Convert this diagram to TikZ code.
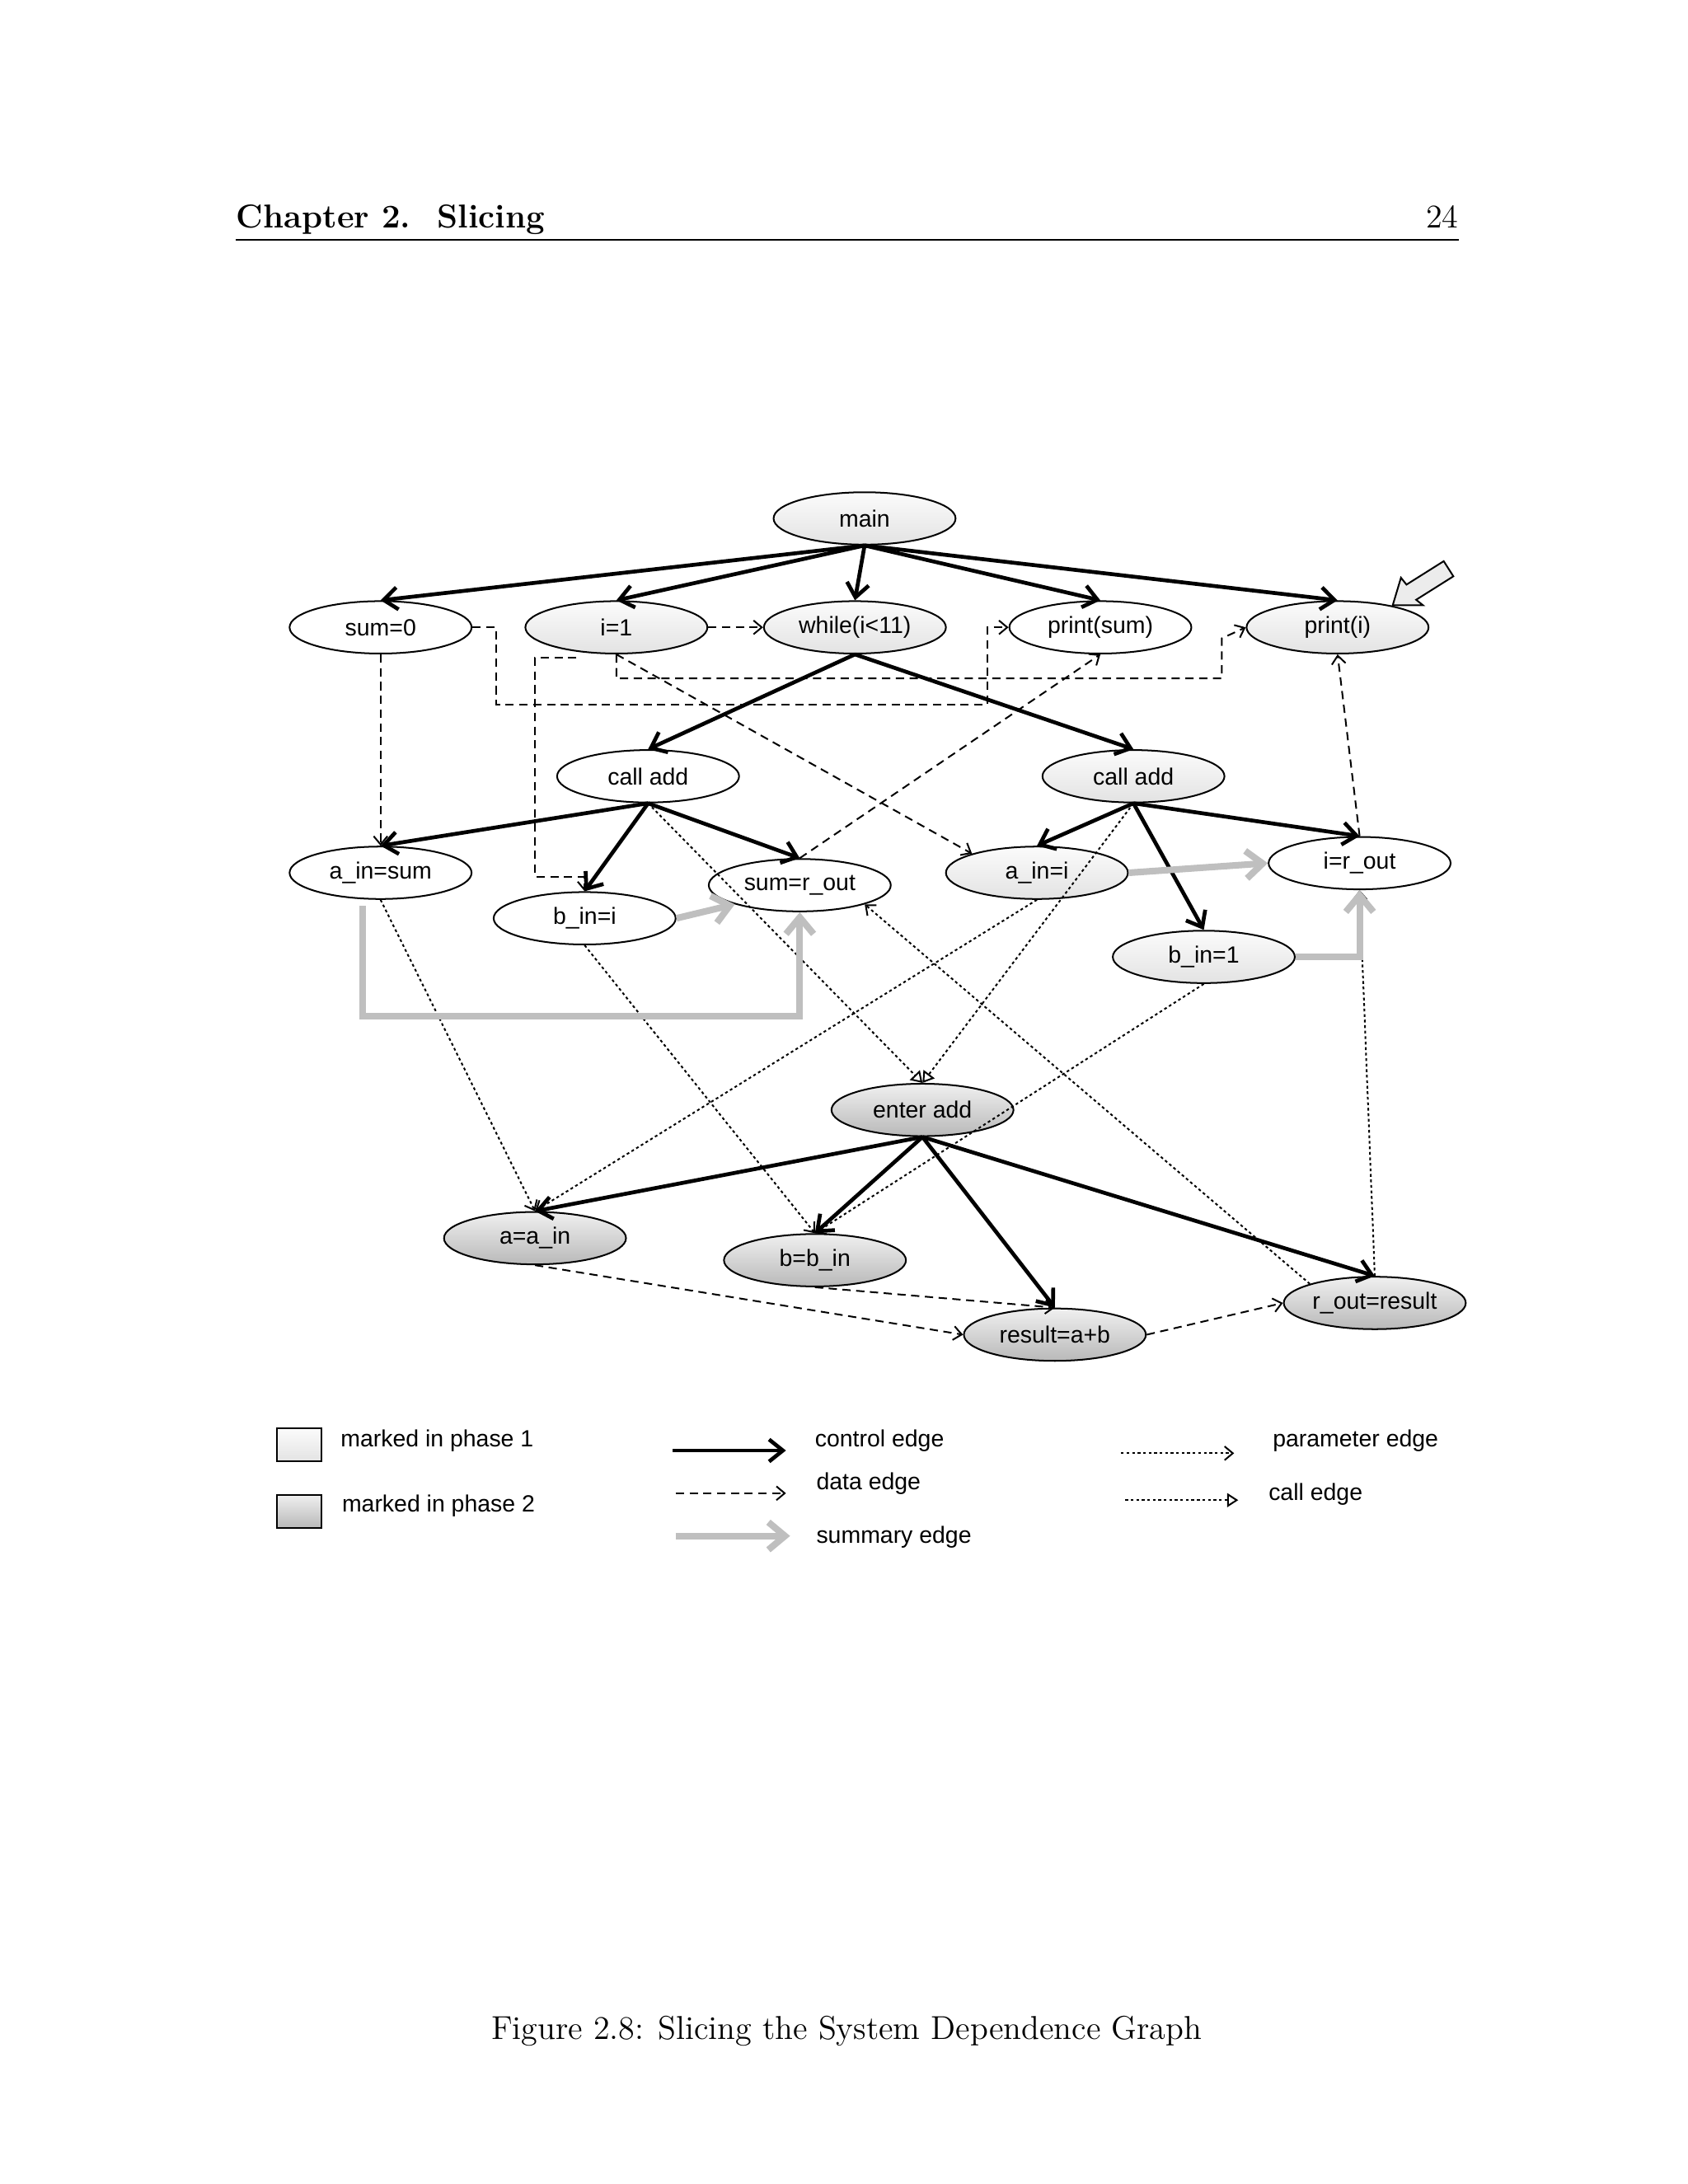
\documentclass[tikz,border=0pt]{standalone}
\usepackage{fontspec}
\newfontfamily\arialf{Liberation Sans}
\usetikzlibrary{shapes.geometric,arrows.meta}
\begin{document}
\begin{tikzpicture}[x=0.5pt,y=-0.5pt,
 nd/.style={ellipse,draw,line width=0.6pt,minimum width=66pt,minimum height=19pt,inner sep=0pt,font=\arialf\fontsize{8.5}{10}\selectfont},
 wh/.style={nd,fill=white},
 pa/.style={nd,top color=gray!3,bottom color=gray!22},
 pb/.style={nd,top color=gray!12,bottom color=gray!55},
 ctrl/.style={line width=1.4pt,-{Straight Barb[length=5pt,width=8pt]}},
 dat/.style={line width=0.6pt,dashed,dash pattern=on 3pt off 2pt,-{Straight Barb[length=3pt,width=5pt]}},
 par/.style={line width=0.6pt,dash pattern=on 1pt off 1pt,-{Straight Barb[length=3pt,width=5pt]}},
 cal/.style={line width=0.6pt,dash pattern=on 1pt off 1pt,-{Triangle[open,length=4pt,width=5pt]}},
 summ/.style={line width=2.4pt,gray!50,-{Straight Barb[length=6pt,width=10pt]}},
 lab/.style={font=\arialf\fontsize{8.5}{10}\selectfont,anchor=west}]
\useasboundingbox (0,0) rectangle (1224,1584);
% header
\node[anchor=base west,font=\bfseries\fontsize{12}{14}\selectfont,inner sep=0] (hd) at (171,165) {Chapter 2.\hspace{0.8em}Slicing};
\node[anchor=base east,font=\fontsize{12}{14}\selectfont,inner sep=0] (pg) at (1058,165) {24};
\draw[line width=0.4pt] (171,174) -- (1058,174);
\node[font=\fontsize{12}{14}\selectfont] (cap) at (614,1473) {Figure 2.8: Slicing the System Dependence Graph};
% nodes
\node[pa] (main) at (627,376) {main};
\node[wh] (s0) at (276,455) {sum=0};
\node[pa] (i1) at (447,455) {i=1};
\node[pa] (wh) at (620,455) {while(i<11)};
\node[wh] (ps) at (798,455) {print(sum)};
\node[pa] (pi) at (970,455) {print(i)};
\node[wh] (c1) at (470,563) {call add};
\node[pa] (c2) at (822,563) {call add};
\node[wh] (ais) at (276,633) {a\_in=sum};
\node[wh] (bii) at (424,666) {b\_in=i};
\node[wh] (sro) at (580,642) {sum=r\_out};
\node[pa] (aii) at (752,633) {a\_in=i};
\node[wh] (iro) at (986,626) {i=r\_out};
\node[pa] (bi1) at (873,694) {b\_in=1};
\node[pb] (ea) at (669,805) {enter add};
\node[pb] (aa) at (388,898) {a=a\_in};
\node[pb] (bb) at (591,914) {b=b\_in};
\node[pb] (res) at (765,968) {result=a+b};
\node[pb] (ror) at (997,945) {r\_out=result};
% pointer arrow
\draw[line width=0.6pt,fill=gray!15] (1010,439) -- (1016,419) -- (1020,424) -- (1047,407) -- (1054,418) -- (1027,435) -- (1032,439) -- cycle;
% control edges
\foreach \t in {s0,i1,wh,ps,pi} \draw[ctrl] (main.south) -- (\t.north);
\draw[ctrl] (wh.south) -- (c1.north);
\draw[ctrl] (wh.south) -- (c2.north);
\foreach \t in {ais,bii,sro} \draw[ctrl] (c1.south) -- (\t.north);
\foreach \t in {aii,iro,bi1} \draw[ctrl] (c2.south) -- (\t.north);
\foreach \t in {aa,bb,res,ror} \draw[ctrl] (ea.south) -- (\t.north);
% data edges
\draw[dat] (i1.east) -- (wh.west);
\draw[dat] (s0.east) -| (360,511) -| (716,455) -- (ps.west);
\draw[dat] (i1.south) -- (447,492) -| (886,463) -- (pi.west);
\draw[dat] (418,477) -- (388,477) -- (388,636) -| (bii.north);
\draw[dat] (i1.south) -- (aii.north west);
\draw[dat] (s0.south) -- (ais.north);
\draw[dat] (sro.north) -- (ps.south);
\draw[dat] (iro.north) -- (pi.south);
\draw[dat] (aa.south) -- (res.west);
\draw[dat] (bb.south) -- (res.north);
\draw[dat] (res.east) -- (ror.west);
% parameter edges
\draw[par] (ais.south) -- (aa.north);
\draw[par] (bii.south) -- (bb.north);
\draw[par] (aii.south) -- (aa.north);
\draw[par] (bi1.south) -- (bb.north);
\draw[par] (ror.north west) -- (sro.south east);
\draw[par] (ror.north) -- (iro.south);
% call edges
\draw[cal] (c1.south) -- (ea.north);
\draw[cal] (c2.south) -- (ea.north);
% summary edges
\draw[summ] (aii.east) -- (iro.west);
\draw[summ] (bii.east) -- (sro.south west);
\draw[summ] (263,657) -- (263,737) -| (sro.south);
\draw[summ] (bi1.east) -| (iro.south);
% legend
\node[draw,line width=0.6pt,top color=gray!3,bottom color=gray!22,minimum width=16pt,minimum height=12pt,inner sep=0] (l1) at (217,1048) {};
\node[draw,line width=0.6pt,top color=gray!12,bottom color=gray!55,minimum width=16pt,minimum height=12pt,inner sep=0] (l2) at (217,1096) {};
\node[lab] (t1) at (240,1045) {marked in phase 1};
\node[lab] (t2) at (241,1092) {marked in phase 2};
\coordinate (a1) at (488,1052); \coordinate (b1) at (570,1052);
\coordinate (a2) at (490,1083); \coordinate (b2) at (570,1083);
\coordinate (a3) at (490,1114); \coordinate (b3) at (573,1114);
\coordinate (a4) at (813,1054); \coordinate (b4) at (895,1054);
\coordinate (a5) at (816,1088); \coordinate (b5) at (898,1088);
\draw[ctrl] (a1) -- (b1); \draw[dat] (a2) -- (b2); \draw[summ] (a3) -- (b3);
\draw[par] (a4) -- (b4); \draw[cal] (a5) -- (b5);
\node[lab] (t3) at (584,1045) {control edge};
\node[lab] (t4) at (585,1076) {data edge};
\node[lab] (t5) at (585,1115) {summary edge};
\node[lab] (t6) at (916,1045) {parameter edge};
\node[lab] (t7) at (913,1084) {call edge};
\end{tikzpicture}
\end{document}
